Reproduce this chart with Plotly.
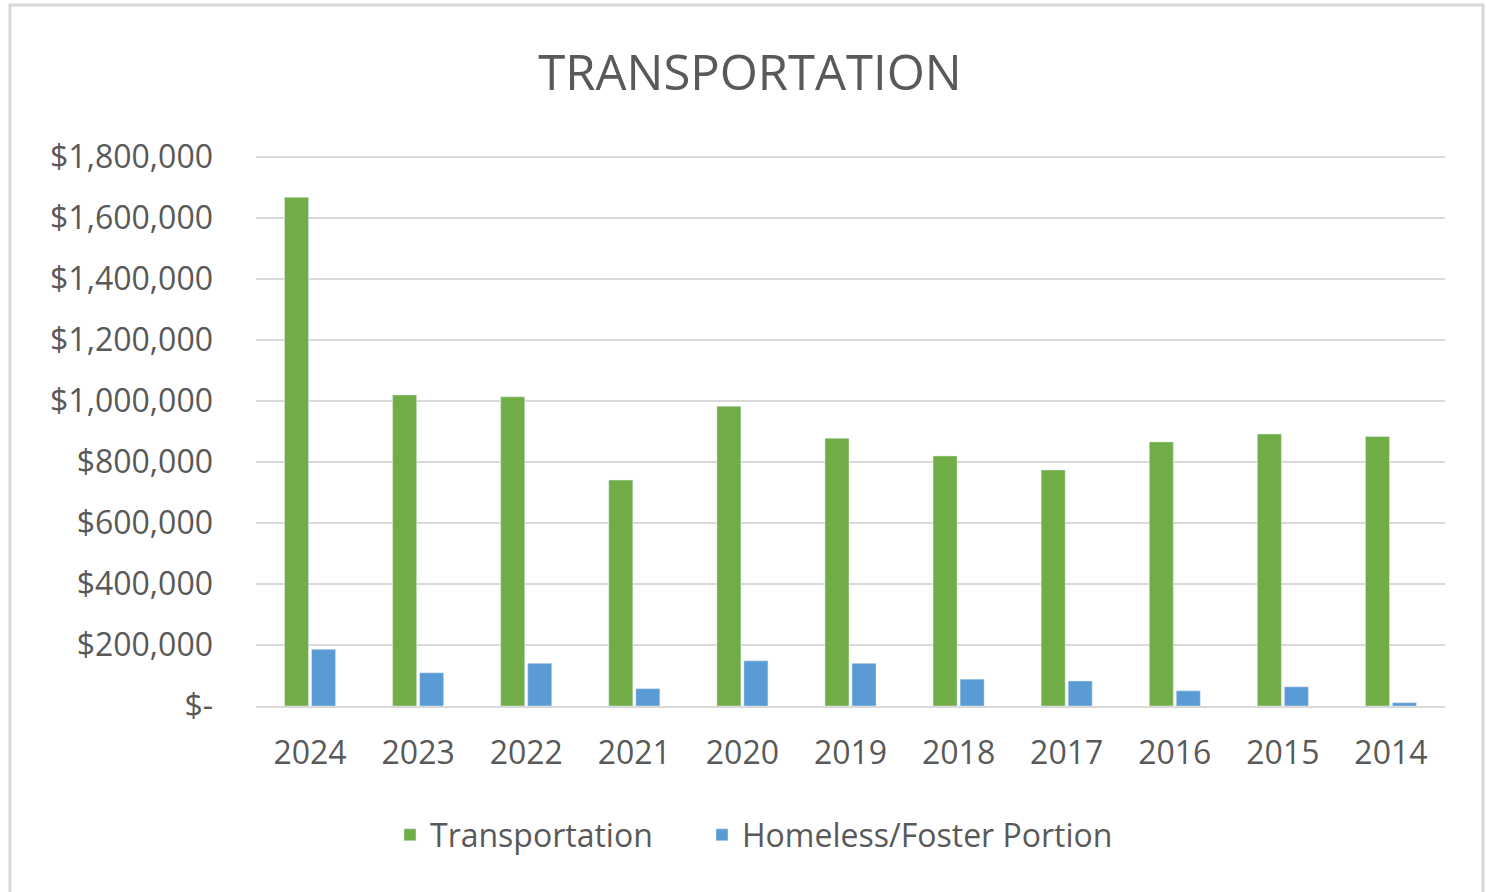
import plotly.graph_objects as go

years = ["2024", "2023", "2022", "2021", "2020", "2019", "2018", "2017", "2016", "2015", "2014"]
transportation = [1668000, 1020000, 1014000, 741000, 983000, 878000, 820000, 774000, 866000, 892000, 884000]
homeless_foster = [186000, 109000, 140000, 57000, 148000, 140000, 88000, 82000, 50000, 63000, 11000]
tick_vals = [0, 200000, 400000, 600000, 800000, 1000000, 1200000, 1400000, 1600000, 1800000]
tick_text = ["$-", "$200,000", "$400,000", "$600,000", "$800,000", "$1,000,000",
             "$1,200,000", "$1,400,000", "$1,600,000", "$1,800,000"]

FONT = "Open Sans"
GRAY = "#595959"

# plot area: x 256-1445, y 154-706 (1.8M gridline at y=157)
PL, PR, PT, PB = 256, 1445, 154, 706
PW, PH = PR - PL, PB - PT


def px(x):
    return (x - PL) / PW


def py(y):
    return (PB - y) / PH


fig = go.Figure()
fig.add_trace(go.Bar(x=years, y=transportation, name="Transportation", marker_color="#70AD47",
                     legend="legend", showlegend=True))
fig.add_trace(go.Bar(x=years, y=homeless_foster, name="Homeless/Foster Portion", marker_color="#5B9BD5",
                     legend="legend2", showlegend=True))

legend_common = dict(orientation="h", xanchor="left", y=py(835), yanchor="middle",
                     font=dict(size=32, color=GRAY), itemwidth=30, bgcolor="rgba(0,0,0,0)")

fig.update_layout(
    width=1487, height=892,
    showlegend=True,
    margin=dict(l=PL, r=1487 - PR, t=PT, b=892 - PB),
    paper_bgcolor="white", plot_bgcolor="white",
    barmode="group", bargap=0.5, bargroupgap=0.11,
    title=dict(text="TRANSPORTATION", x=0.5044, xanchor="center", y=1 - 73 / 892, yanchor="middle",
               font=dict(family=FONT, size=49, color=GRAY)),
    font=dict(family=FONT, color=GRAY),
    xaxis=dict(tickfont=dict(size=32, color=GRAY), showline=True, linecolor="#d9d9d9", linewidth=2,
               ticks="", showgrid=False, ticklabelstandoff=18),
    yaxis=dict(range=[0, 1810000], tickvals=tick_vals, ticktext=tick_text,
               tickfont=dict(size=32, color=GRAY), showgrid=True, gridcolor="#d9d9d9", gridwidth=2,
               zeroline=False, ticks="", ticklabelstandoff=42),
    legend=dict(x=px(390), visible=True, **legend_common),
    legend2=dict(x=px(702), visible=True, **legend_common),
    shapes=[dict(type="rect", xref="paper", yref="paper",
                 x0=px(10), x1=px(1483), y0=py(905), y1=py(5),
                 line=dict(color="#d9d9d9", width=3), fillcolor="rgba(0,0,0,0)", layer="below")],
)

fig.write_html("out.html", post_script="document.body.style.margin='0';",
               config={"displayModeBar": False})
